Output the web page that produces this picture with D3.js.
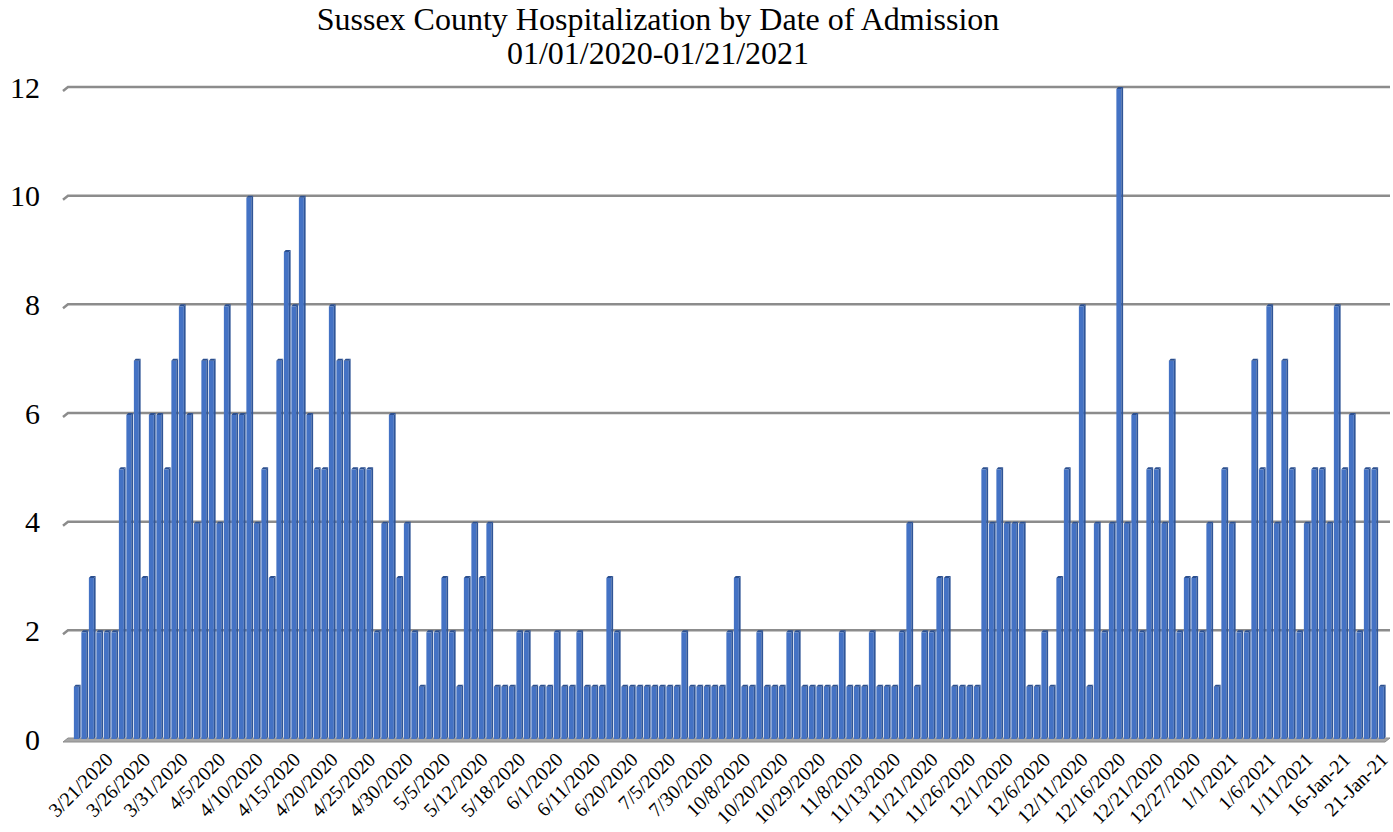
<!DOCTYPE html>
<meta charset="utf-8">
<style>
body { margin: 0; background: #fff; }
text { font-family: "Liberation Serif", "Times New Roman", serif; fill: #000; }
</style>
<body>
<script src="https://cdnjs.cloudflare.com/ajax/libs/d3/7.8.5/d3.min.js"></script>
<script>
// admissions per day (one bar per date that had admissions)
var values = [
  1,2,3,2,2,2,5,6,7,3,6,6,5,7,8,6,
  4,7,7,4,8,6,6,10,4,5,3,7,9,8,10,
  6,5,5,8,7,7,5,5,5,2,4,6,3,4,2,1,2,
  2,3,2,1,3,4,3,4,1,1,1,2,2,1,1,1,
  2,1,1,2,1,1,1,3,2,1,1,1,1,1,1,1,
  1,2,1,1,1,1,1,2,3,1,1,2,1,1,1,2,
  2,1,1,1,1,1,2,1,1,1,2,1,1,1,2,4,
  1,2,2,3,3,1,1,1,1,5,4,5,4,4,4,1,
  1,2,1,3,5,4,8,1,4,2,4,12,4,6,2,5,
  5,4,7,2,3,3,2,4,1,5,4,2,2,7,5,8,
  4,7,5,2,4,5,5,4,8,5,6,2,5,5,1
];
// every 5th category is labelled, starting with the 5th bar
var tickLabels = ["3/21/2020","3/26/2020","3/31/2020","4/5/2020","4/10/2020","4/15/2020",
  "4/20/2020","4/25/2020","4/30/2020","5/5/2020","5/12/2020","5/18/2020","6/1/2020",
  "6/11/2020","6/20/2020","7/5/2020","7/30/2020","10/8/2020","10/20/2020","10/29/2020",
  "11/8/2020","11/13/2020","11/21/2020","11/26/2020","12/1/2020","12/6/2020","12/11/2020",
  "12/16/2020","12/21/2020","12/27/2020","1/1/2021","1/6/2021","1/11/2021","16-Jan-21","21-Jan-21"];
var yTicks = [0,2,4,6,8,10,12];
var firstLabelled = 4, labelStep = 5;

var w = 1393, h = 832;
var plotLeft = 68, plotRight = 1390, plotTop = 87, plotBottom = 739;

var svg = d3.select("body").append("svg").attr("width", w).attr("height", h);

var x = d3.scaleBand()
  .domain(d3.range(values.length))
  .range([73.5, 73.5 + values.length * 7.5])
  .paddingInner(0.1)
  .paddingOuter(0.05);
var y = d3.scaleLinear().domain([0, 12]).range([plotBottom, plotTop]);

// title
svg.append("text").attr("x", 658).attr("y", 30).attr("text-anchor", "middle")
  .style("font-size", "32px").text("Sussex County Hospitalization by Date of Admission");
svg.append("text").attr("x", 658).attr("y", 64).attr("text-anchor", "middle")
  .style("font-size", "32px").text("01/01/2020-01/21/2021");

// gridlines with the little 3d slant on the left
svg.selectAll(".grid").data(yTicks.filter(function(d) { return d > 0; }))
  .enter().append("path")
  .attr("d", function(d) { var yy = y(d); return "M63," + (yy + 4) + "L68," + yy + "L" + plotRight + "," + yy; })
  .attr("fill", "none").attr("stroke", "#8c8c8c").attr("stroke-width", 2.5);

// floor
svg.append("path")
  .attr("d", "M63," + (plotBottom + 3) + "L68," + (plotBottom - 1) + "L" + plotRight + "," + (plotBottom - 1) + "L" + (plotRight - 5) + "," + (plotBottom + 3) + "Z")
  .attr("fill", "#a6a6a6").attr("stroke", "#8c8c8c").attr("stroke-width", 1);

// y labels
svg.selectAll(".ylab").data(yTicks).enter().append("text")
  .attr("x", 40).attr("y", function(d) { return y(d); }).attr("dy", "0.35em")
  .attr("text-anchor", "end").style("font-size", "30px").text(function(d) { return d; });

// bars: front face, dark side, dark top
var side = 1.8;
var bw = x.bandwidth() - side;
var bars = svg.selectAll(".bar").data(values).enter().append("g");
bars.append("rect")
  .attr("x", function(d, i) { return x(i); })
  .attr("y", function(d) { return y(d) + 2; })
  .attr("width", bw)
  .attr("height", function(d) { return plotBottom - y(d) - 2; })
  .attr("fill", "#4472c4");
bars.append("path")
  .attr("d", function(d, i) {
    var x0 = x(i) + bw, y0 = y(d) + 2;
    return "M" + x0 + "," + y0 + "L" + (x0 + side) + "," + (y0 - 2) + "L" + (x0 + side) + "," + (plotBottom - 2) + "L" + x0 + "," + plotBottom + "Z";
  })
  .attr("fill", "#2f5597");
bars.append("path")
  .attr("d", function(d, i) {
    var x0 = x(i), y0 = y(d) + 2;
    return "M" + x0 + "," + y0 + "L" + (x0 + side) + "," + (y0 - 2) + "L" + (x0 + bw + side) + "," + (y0 - 2) + "L" + (x0 + bw) + "," + y0 + "Z";
  })
  .attr("fill", "#2b4f8f");

// x labels, rotated
var tickIdx = tickLabels.map(function(t, k) { return firstLabelled + k * labelStep; });
svg.selectAll(".xlab").data(tickIdx).enter().append("text")
  .attr("transform", function(i) { return "translate(" + (x(i) + x.bandwidth() / 2 - 3) + "," + (plotBottom + 12) + ") rotate(-45)"; })
  .attr("text-anchor", "end").attr("dy", "0.7em")
  .style("font-size", "20px")
  .text(function(i, k) { return tickLabels[k]; });
</script>
</body>
